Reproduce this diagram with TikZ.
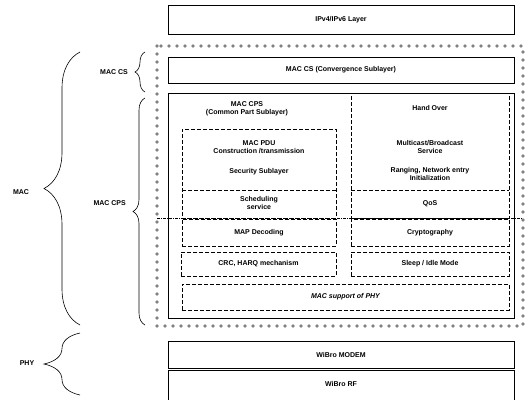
\documentclass[tikz,border=0pt]{standalone}
\usepackage{fontspec}
\setmainfont{Liberation Sans}
\usetikzlibrary{decorations.pathreplacing,decorations.markings}

\tikzset{
	layer/.style={rectangle,draw,line width=0.8pt,inner sep=0pt},
	subbox/.style={rectangle,draw,line width=0.5pt,dash pattern=on 4pt off 2pt,inner sep=0pt},
	subline/.style={line width=0.5pt,dash pattern=on 4pt off 2pt},
	lbl/.style={font=\bfseries\fontsize{7}{8.5}\selectfont,align=center,inner sep=0pt},
	sepline/.style={line width=0.5pt,dash pattern=on 3pt off 1pt on 1pt off 1pt},
	ringline/.style={postaction={decorate},decoration={markings,
		mark=between positions 0 and 1 step 8pt with {\draw[line width=0.4pt] (0,0) circle (1.4pt);}}},
	brc/.style={decorate,line width=0.6pt,decoration={brace}}
}

\begin{document}
\begin{tikzpicture}[x=1pt,y=-1pt]
	\useasboundingbox (0,0) rectangle (526,399);

	% MAC border
	\path[ringline] (157,46) rectangle (523,326);

	% layers
	\node[layer,minimum width=346,minimum height=29] (ip) at (341,20) {};
	\node[layer,minimum width=346,minimum height=26] (cs) at (341,70) {};
	\node[layer,minimum width=346,minimum height=225] (cps) at (341,205.5) {};
	\node[layer,minimum width=346,minimum height=27] (modem) at (341,354.5) {};
	\node[layer,minimum width=346,minimum height=32] (rf) at (341,386) {};

	% sub blocks
	\node[subbox,minimum width=154,minimum height=89] (left) at (259,173.5) {};
	\node[subbox,minimum width=158,minimum height=125] (right) at (430,155.5) {};
	\node[subbox,minimum width=154,minimum height=27] (map) at (259,232.5) {};
	\node[subbox,minimum width=158,minimum height=27] (crypt) at (430,232.5) {};
	\node[subbox,minimum width=155,minimum height=24] (crc) at (258.5,264) {};
	\node[subbox,minimum width=158,minimum height=24] (sleep) at (430,264) {};
	\node[subbox,minimum width=327,minimum height=26] (phys) at (345.5,297) {};

	\coordinate (lsepA) at (182,190);
	\coordinate (lsepB) at (336,190);
	\coordinate (rsepA) at (351,190);
	\coordinate (rsepB) at (509,190);
	\coordinate (midL) at (157,218);
	\coordinate (midR) at (523,218);
	\draw[subline] (lsepA) -- (lsepB);
	\draw[subline] (rsepA) -- (rsepB);
	\draw[sepline] (midL) -- (midR);

	% texts
	\begin{scope}[every node/.style={lbl}]
	\node (tip) at (ip) {IPv4/IPv6 Layer};
	\node (tcs) at (cs) {MAC CS (Convergence Sublayer)};
	\node (tcps) at (247,109) {MAC CPS\\(Common Part Sublayer)};
	\node (tpdu) at (259,147) {MAC PDU\\Construction /transmission};
	\node (tsec) at (259,172) {Security Sublayer};
	\node (tsch) at (259,203) {Scheduling\\service};
	\node (tho) at (430,108) {Hand Over};
	\node (tmb) at (430,147) {Multicast/Broadcast\\Service};
	\node (trng) at (430,174) {Ranging, Network entry\\Initialization};
	\node (tqos) at (430,204) {QoS};
	\node (tmap) at (map) {MAP Decoding};
	\node (tcry) at (crypt) {Cryptography};
	\node (tcrc) at (crc) {CRC, HARQ mechanism};
	\node (tslp) at (sleep) {Sleep / Idle Mode};
	\node[font=\bfseries\itshape\fontsize{7}{8.5}\selectfont] (tphy) at (phys) {MAC support of PHY};
	\node (tmod) at (modem) {WiBro MODEM};
	\node (trf) at (341,384) {WiBro RF};

	\node[anchor=east] (lcs) at (128,72) {MAC CS};
	\node[anchor=east] (lcps) at (126,203) {MAC CPS};
	\node (lmac) at (21,192) {MAC};
	\node (lphy) at (27,363) {PHY};
	\end{scope}

	% braces
	\coordinate (csT) at (145,52);
	\coordinate (csB) at (145,92);
	\coordinate (cpsT) at (145,98);
	\coordinate (cpsB) at (145,325);
	\coordinate (macT) at (80,52);
	\coordinate (macB) at (80,325);
	\coordinate (phyT) at (80,333);
	\coordinate (phyB) at (80,395);
	\draw[brc,decoration={amplitude=10pt}] (csB) -- (csT);
	\draw[brc,decoration={amplitude=12pt}] (cpsB) -- (cpsT);
	\draw[brc,decoration={amplitude=36pt}] (macB) -- (macT);
	\draw[brc,decoration={amplitude=36pt}] (phyB) -- (phyT);
\end{tikzpicture}
\end{document}
